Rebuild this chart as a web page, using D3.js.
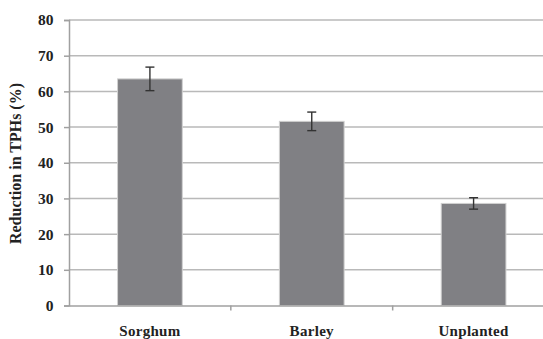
<!DOCTYPE html>
<html>
<head>
<meta charset="utf-8">
<script src="https://cdn.jsdelivr.net/npm/d3@7"></script>
<style>
  html, body { margin: 0; padding: 0; background: #fff; }
  svg { display: block; }
</style>
</head>
<body>
<svg id="chart" width="543" height="339"></svg>
<script>
// Reduction in TPHs by treatment, with standard error
const categories = ["Sorghum", "Barley", "Unplanted"];
const reduction = [63.5, 51.6, 28.6];
const errors = [3.3, 2.6, 1.6];
const yTicks = [0, 10, 20, 30, 40, 50, 60, 70, 80];

const serif = '"Liberation Serif", "Times New Roman", serif';
const svg = d3.select("#chart");
const plotLeft = 69, plotTop = 20, plotBottom = 305.5, plotRight = 554.5;

const x = d3.scaleBand()
  .domain(categories)
  .range([plotLeft, plotRight])
  .paddingInner(0.6)
  .paddingOuter(0.3);

const xCat = d3.scaleBand().domain(categories).range([plotLeft, plotRight]);

const y = d3.scaleLinear().domain([0, 80]).range([plotBottom, plotTop]);

// horizontal gridlines
svg.append("g")
  .selectAll("line")
  .data(yTicks.filter(d => d > 0))
  .join("line")
  .attr("x1", plotLeft).attr("x2", plotRight)
  .attr("y1", d => y(d)).attr("y2", d => y(d))
  .attr("stroke", "#b9b9b9")
  .attr("stroke-width", 1.5);

// y axis
const yAxis = svg.append("g")
  .attr("transform", `translate(${plotLeft},0)`)
  .call(d3.axisLeft(y).tickValues(yTicks).tickSize(5).tickPadding(10.5));
yAxis.select(".domain").attr("stroke", "#a0a0a0").attr("stroke-width", 1.5);
yAxis.selectAll(".tick line").attr("stroke", "#a0a0a0").attr("stroke-width", 1.5);
yAxis.selectAll(".tick text")
  .style("font-family", serif).style("font-weight", "bold").style("font-size", "15.5px")
  .attr("fill", "#222");

// bars
svg.append("g")
  .selectAll("rect")
  .data(categories)
  .join("rect")
  .attr("x", d => x(d))
  .attr("width", x.bandwidth())
  .attr("y", (d, i) => y(reduction[i]))
  .attr("height", (d, i) => y(0) - y(reduction[i]))
  .attr("fill", "#808084")
  .attr("stroke", "#d0d0d0")
  .attr("stroke-width", 1);

// x axis
const xAxis = svg.append("g")
  .attr("transform", `translate(0,${plotBottom})`)
  .call(d3.axisBottom(xCat).tickSize(0).tickPadding(19.5));
xAxis.select(".domain").attr("stroke", "#a0a0a0").attr("stroke-width", 1.5);
xAxis.selectAll(".tick text")
  .style("font-family", serif).style("font-weight", "bold").style("font-size", "15px")
  .style("letter-spacing", "0.3px")
  .attr("fill", "#222");

// category separator ticks
svg.append("g")
  .selectAll("line")
  .data(categories.slice(1))
  .join("line")
  .attr("x1", d => xCat(d)).attr("x2", d => xCat(d))
  .attr("y1", plotBottom).attr("y2", plotBottom + 5)
  .attr("stroke", "#a0a0a0").attr("stroke-width", 1.5);

// error bars
const eb = svg.append("g").attr("stroke", "#333").attr("stroke-width", 1.4);
categories.forEach((c, i) => {
  const cx = x(c) + x.bandwidth() / 2;
  const hi = y(reduction[i] + errors[i]), lo = y(reduction[i] - errors[i]);
  eb.append("line").attr("x1", cx).attr("x2", cx).attr("y1", hi).attr("y2", lo);
  eb.append("line").attr("x1", cx - 4.5).attr("x2", cx + 4.5).attr("y1", hi).attr("y2", hi);
  eb.append("line").attr("x1", cx - 4.5).attr("x2", cx + 4.5).attr("y1", lo).attr("y2", lo);
});

// y axis title
svg.append("text")
  .attr("transform", `translate(21,163.5) rotate(-90)`)
  .attr("text-anchor", "middle")
  .style("font-family", serif).style("font-weight", "bold").style("font-size", "16px")
  .attr("fill", "#222")
  .text("Reduction in TPHs (%)");
</script>
</body>
</html>
